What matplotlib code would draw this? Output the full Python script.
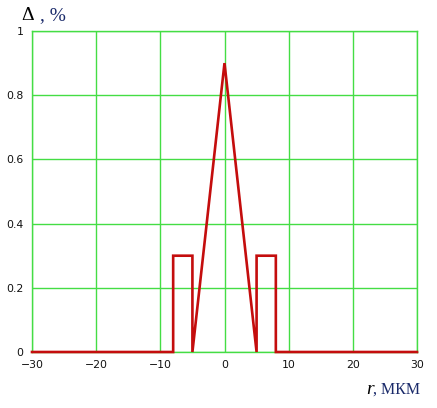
import numpy as np
import matplotlib
matplotlib.use("Agg")
import matplotlib.pyplot as plt

# profile: r in microns, delta in %
r_um = [-30, -8, -8, -5, -5, 0, 5, 5, 8, 8, 30]
delta = [0, 0, 0.3, 0.3, 0, 0.9, 0, 0.3, 0.3, 0, 0]

x_ticks = [-30, -20, -10, 0, 10, 20, 30]
x_labels = ["\u221230", "\u221220", "\u221210", "0", "10", "20", "30"]
y_ticks = [0, 0.2, 0.4, 0.6, 0.8, 1]
y_labels = ["0", "0.2", "0.4", "0.6", "0.8", "1"]

green = "#44dd44"

fig = plt.figure(figsize=(4.37, 4.08), dpi=100)
ax = fig.add_axes([32 / 437, 56 / 408, 385 / 437, 321 / 408])

ax.plot(r_um, delta, color="#c40d0d", linewidth=1.9, solid_joinstyle="miter", zorder=3, clip_on=False)

ax.set_xlim(-30, 30)
ax.set_ylim(0, 1)
ax.set_xticks(x_ticks)
ax.set_xticklabels(x_labels)
ax.set_yticks(y_ticks)
ax.set_yticklabels(y_labels)
ax.tick_params(length=0, labelsize=7.8, pad=6, colors="#111111")
ax.grid(True, color=green, linewidth=1)
for s in ax.spines.values():
    s.set_color(green)
    s.set_linewidth(1)

fig.text(21 / 437, 1 - 16 / 408, "\u0394", fontsize=14, family="Liberation Serif", va="center", color="black")
fig.text(40 / 437, 1 - 16 / 408, ", %", fontsize=14, family="Liberation Serif", va="center", color="#1a2a6a")
fig.text(366 / 437, 1 - 390 / 408, "r", fontsize=14, family="Liberation Serif", style="italic", va="center", color="black")
fig.text(373 / 437, 1 - 390 / 408, ", МКМ", fontsize=11.5, family="Liberation Serif", va="center", color="#1a2a6a")

plt.savefig("out.png", dpi=100)
